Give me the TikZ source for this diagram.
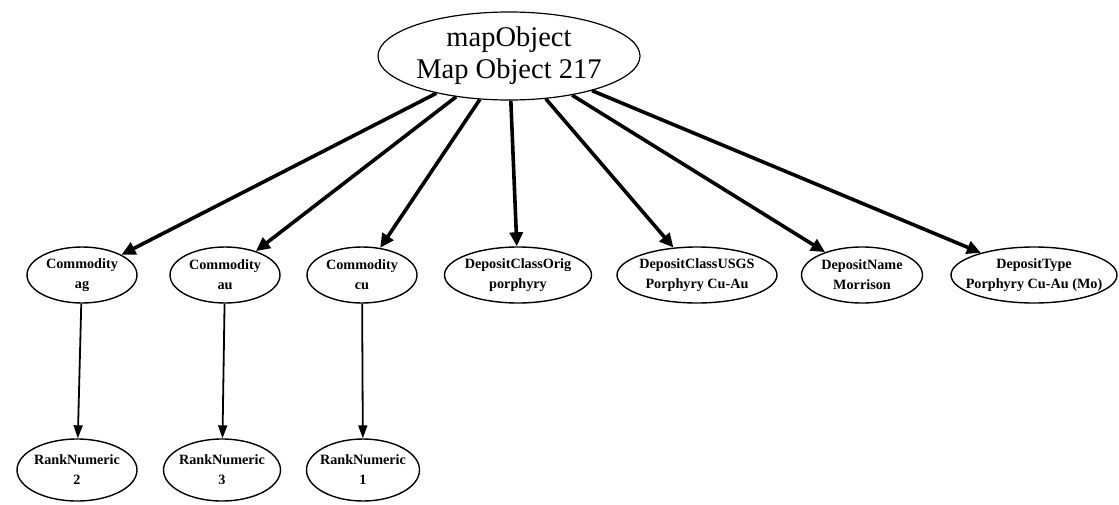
\documentclass[tikz,border=0pt]{standalone}
\usepackage{fontspec}
\setmainfont{Liberation Serif}
\usetikzlibrary{shapes.geometric,arrows.meta}
\tikzset{
  topnode/.style={ellipse, draw, line width=1.2pt, minimum width=262pt, minimum height=88pt, inner sep=0pt,
    align=center, font=\fontsize{28.5}{32}\selectfont},
  leaf/.style={ellipse, draw, line width=1.4pt, inner ysep=0pt, inner xsep=-12pt, align=center,
    font=\bfseries\fontsize{14.2}{20}\selectfont, minimum height=56pt},
  thick arrow/.style={line width=3.6pt, -{Triangle[length=14pt,width=13pt]}},
  thin arrow/.style={line width=1.8pt, -{Triangle[length=13pt,width=9pt]}}
}
\begin{document}
\begin{tikzpicture}[x=1pt,y=-1pt]
\useasboundingbox (0,0) rectangle (1119,504);
\node[topnode] (top) at (509,56) {mapObject\\Map Object 217};
\node[leaf, minimum width=110pt] (ag) at (82,275) {Commodity\\ag};
\node[leaf, minimum width=110pt] (au) at (225,275) {Commodity\\au};
\node[leaf, minimum width=110pt] (cu) at (362,275) {Commodity\\cu};
\node[leaf, minimum width=147pt] (dco) at (518,275) {DepositClassOrig\\porphyry};
\node[leaf, minimum width=160pt] (dcu) at (697,275) {DepositClassUSGS\\Porphyry Cu-Au};
\node[leaf, minimum width=121pt] (dn) at (862,275) {DepositName\\Morrison};
\node[leaf, minimum width=166pt] (dt) at (1034,275) {DepositType\\Porphyry Cu-Au (Mo)};
\node[leaf, minimum width=120pt, minimum height=62pt] (r2) at (77,470) {RankNumeric\\2};
\node[leaf, minimum width=117pt, minimum height=62pt] (r3) at (222,470) {RankNumeric\\3};
\node[leaf, minimum width=113pt, minimum height=62pt] (r1) at (363,470) {RankNumeric\\1};
\foreach \n in {ag,au,cu,dco,dcu,dn,dt} \draw[thick arrow] (top) -- (\n);
\draw[thin arrow] (ag) -- (r2);
\draw[thin arrow] (au) -- (r3);
\draw[thin arrow] (cu) -- (r1);
\end{tikzpicture}
\end{document}
